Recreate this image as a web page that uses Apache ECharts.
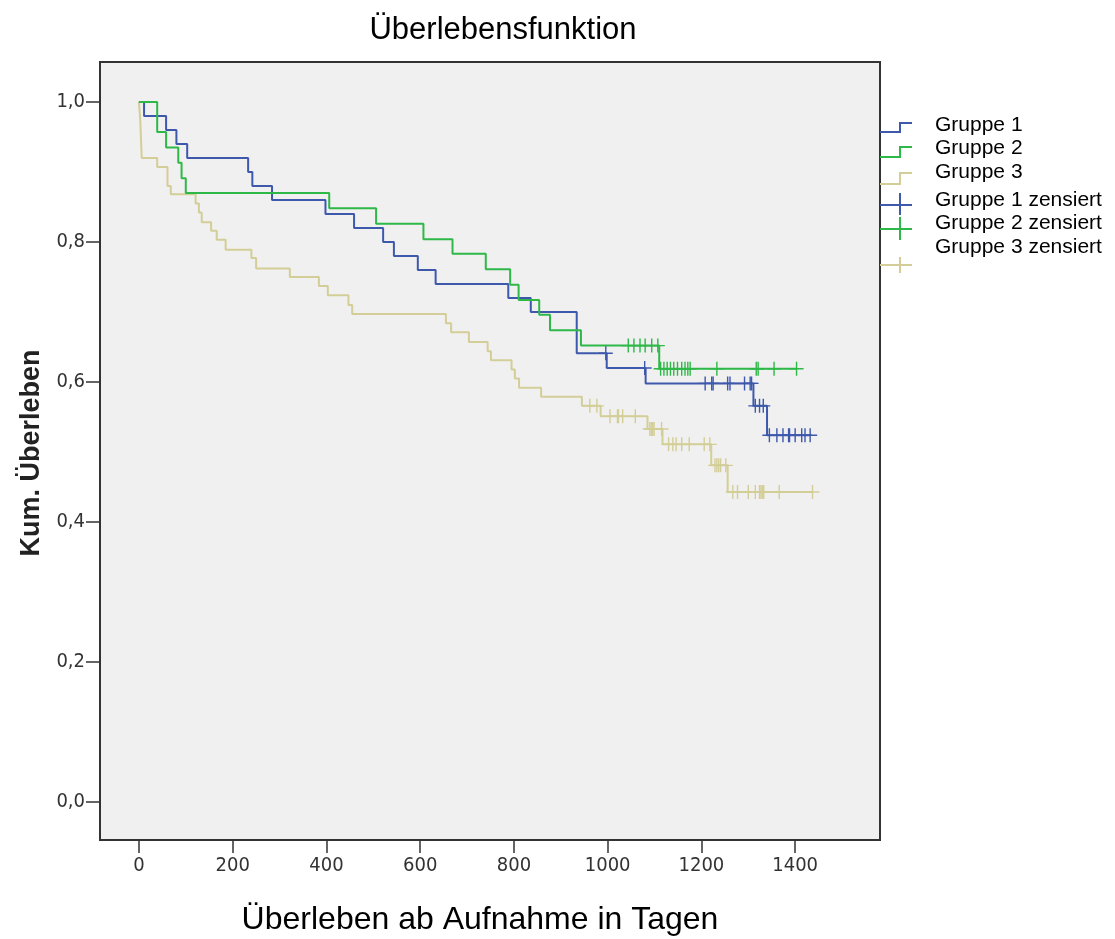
<!DOCTYPE html>
<html>
<head>
<meta charset="utf-8">
<script src="https://cdn.jsdelivr.net/npm/echarts@6/dist/echarts.min.js"></script>
<style>
html,body{margin:0;padding:0;background:#fff;}
#chart{width:1115px;height:939px;}
</style>
</head>
<body>
<div id="chart"></div>
<script>
// ---- data ----
const xTicks = [0, 200, 400, 600, 800, 1000, 1200, 1400];
const yTicks = [0, 0.2, 0.4, 0.6, 0.8, 1.0];

const groupNames = ['Gruppe 1', 'Gruppe 2', 'Gruppe 3'];
const censorNames = ['Gruppe 1 zensiert', 'Gruppe 2 zensiert', 'Gruppe 3 zensiert'];

const g1Times = [0, 11, 58, 80, 103, 233, 242, 284, 398, 459, 521, 544, 595, 633, 788, 836, 934, 998, 1081, 1311, 1340, 1432];
const g1Surv  = [1.0, 0.98, 0.96, 0.94, 0.92, 0.90, 0.88, 0.86, 0.84, 0.82, 0.80, 0.78, 0.76, 0.74, 0.72, 0.70, 0.641, 0.62, 0.598, 0.566, 0.524, 0.524];
const g1Cens  = [996, 1079, 1208, 1222, 1225, 1256, 1261, 1292, 1304, 1307, 1315, 1324, 1332, 1345, 1361, 1374, 1386, 1388, 1400, 1414, 1421, 1432];

const g2Times = [0, 39, 58, 84, 91, 100, 406, 506, 607, 669, 740, 792, 810, 854, 877, 943, 1110, 1403];
const g2Surv  = [1.0, 0.957, 0.935, 0.913, 0.891, 0.870, 0.848, 0.826, 0.804, 0.783, 0.761, 0.739, 0.717, 0.696, 0.674, 0.652, 0.619, 0.619];
const g2Cens  = [1044, 1056, 1069, 1080, 1094, 1107, 1113, 1120, 1127, 1134, 1141, 1149, 1158, 1165, 1171, 1176, 1233, 1317, 1321, 1355, 1403];

const g3Times = [0, 3, 6, 39, 61, 68, 121, 128, 134, 154, 166, 185, 240, 250, 322, 384, 403, 447, 455, 655, 666, 704, 744, 751, 795, 802, 811, 858, 945, 985, 1085, 1117, 1221, 1256, 1437];
const g3Surv  = [1.0, 0.973, 0.92, 0.907, 0.88, 0.868, 0.855, 0.842, 0.828, 0.816, 0.803, 0.789, 0.777, 0.762, 0.75, 0.737, 0.724, 0.71, 0.697, 0.684, 0.671, 0.657, 0.644, 0.631, 0.618, 0.605, 0.592, 0.579, 0.566, 0.551, 0.533, 0.511, 0.481, 0.443, 0.443];
const g3Cens  = [962, 977, 1005, 1021, 1023, 1032, 1059, 1090, 1093, 1096, 1099, 1115, 1130, 1139, 1146, 1158, 1174, 1206, 1218, 1229, 1233, 1237, 1241, 1252, 1267, 1277, 1300, 1315, 1324, 1327, 1330, 1333, 1366, 1437];

// ---- styling ----
const colors = ['#3E58AC', '#2EB848', '#D3CE97'];
const FONT = "'Liberation Sans', Arial, sans-serif";
const NARROW = "'Liberation Sans Narrow', 'DejaVu Sans Condensed', 'Liberation Sans', sans-serif";
const plusSymbol = 'path://M0.45,0H0.55V0.45H1V0.55H0.55V1H0.45V0.55H0V0.45H0.45Z';

function stepData(times, surv) { return times.map((t, i) => [t, surv[i]]); }
function survAt(times, surv, t) {
  let v = surv[0];
  for (let i = 0; i < times.length; i++) { if (times[i] <= t) v = surv[i]; }
  return v;
}
function censData(cens, times, surv) { return cens.map(t => [t, survAt(times, surv, t)]); }

const groups = [
  {times: g1Times, surv: g1Surv, cens: g1Cens},
  {times: g2Times, surv: g2Surv, cens: g2Cens},
  {times: g3Times, surv: g3Surv, cens: g3Cens}
];

const drawOrder = [2, 0, 1];
const series = [];
drawOrder.forEach(i => {
  series.push({
    name: groupNames[i], type: 'line', step: 'end', showSymbol: false,
    data: stepData(groups[i].times, groups[i].surv),
    lineStyle: {color: colors[i], width: 2}, itemStyle: {color: colors[i]},
    animation: false, z: 3
  });
});
drawOrder.forEach(i => {
  series.push({
    name: censorNames[i], type: 'scatter', symbol: plusSymbol, symbolSize: [14, 14],
    data: censData(groups[i].cens, groups[i].times, groups[i].surv),
    itemStyle: {color: colors[i], opacity: 1}, animation: false, z: 4
  });
});

// legend drawn as graphic
const legendItems = [];
const legendTextY = [125, 148, 172, 200, 223, 247];
const legendLabels = groupNames.concat(censorNames);
const stepIcons = [[132, 123], [157, 147], [184, 173]];
stepIcons.forEach((s, i) => {
  legendItems.push({type: 'polyline', shape: {points: [[880, s[0]], [900, s[0]], [900, s[1]], [912, s[1]]]},
    style: {stroke: colors[i], lineWidth: 2, fill: null}});
});
const plusIcons = [[205, 193, 215], [229, 217, 240], [265, 257, 273]];
plusIcons.forEach((p, i) => {
  legendItems.push({type: 'line', shape: {x1: 880, y1: p[0], x2: 912, y2: p[0]}, style: {stroke: colors[i], lineWidth: 2}});
  legendItems.push({type: 'line', shape: {x1: 900, y1: p[1], x2: 900, y2: p[2]}, style: {stroke: colors[i], lineWidth: 2}});
});
legendLabels.forEach((t, i) => {
  legendItems.push({type: 'text', x: 935, y: legendTextY[i],
    style: {text: t, font: "21px " + FONT, fill: '#000', verticalAlign: 'middle'}});
});

const option = {
  backgroundColor: '#ffffff',
  animation: false,
  grid: {left: 100, top: 62, width: 780, height: 778, show: true,
         backgroundColor: '#F0F0F0', borderColor: '#333', borderWidth: 2},
  xAxis: {
    type: 'value', min: -83, max: 1581,
    splitLine: {show: false},
    axisLine: {show: true, onZero: false, lineStyle: {color: '#333', width: 2}},
    axisTick: {show: true, length: 13, customValues: xTicks, lineStyle: {color: '#333', width: 1.5}},
    axisLabel: {customValues: xTicks, margin: 16, color: '#333', fontSize: 20, fontFamily: NARROW,
                formatter: v => String(v)}
  },
  yAxis: {
    type: 'value', min: -0.054, max: 1.057,
    splitLine: {show: false},
    axisLine: {show: true, onZero: false, lineStyle: {color: '#333', width: 2}},
    axisTick: {show: true, length: 14, customValues: yTicks, lineStyle: {color: '#333', width: 1.5}},
    axisLabel: {customValues: yTicks, margin: 15, color: '#333', fontSize: 20, fontFamily: NARROW,
                formatter: v => v.toFixed(1).replace('.', ',')}
  },
  series: series,
  graphic: [
    {type: 'text', x: 503, y: 30, style: {text: 'Überlebensfunktion', font: "31px " + FONT, fill: '#000',
      align: 'center', verticalAlign: 'middle'}},
    {type: 'text', x: 480, y: 920, style: {text: 'Überleben ab Aufnahme in Tagen', font: "32px " + FONT, fill: '#000',
      align: 'center', verticalAlign: 'middle'}},
    {type: 'text', x: 32, y: 453, rotation: Math.PI / 2, style: {text: 'Kum. Überleben', font: "bold 27px " + FONT, fill: '#222',
      align: 'center', verticalAlign: 'middle'}}
  ].concat(legendItems)
};

const chart = echarts.init(document.getElementById('chart'), null, {renderer: 'canvas'});
chart.setOption(option);
</script>
</body>
</html>
